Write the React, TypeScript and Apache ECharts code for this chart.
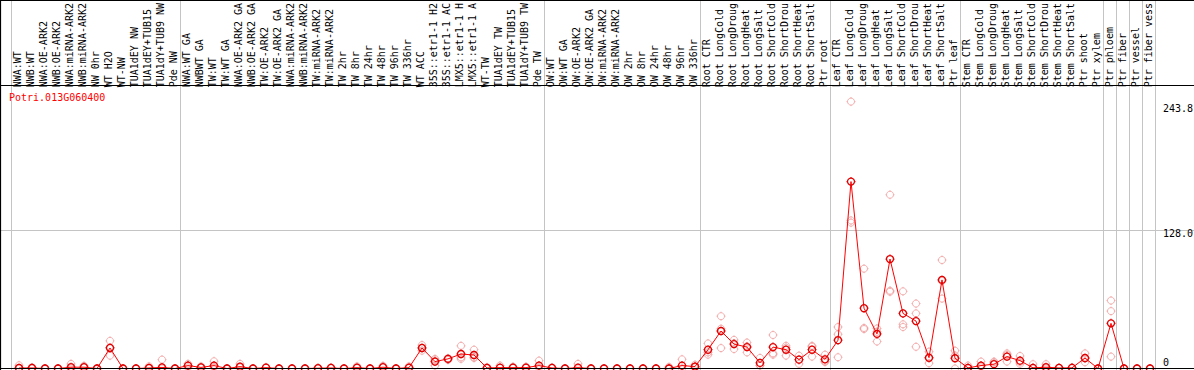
import React, { useEffect, useRef } from 'react';
import * as echarts from 'echarts';

const geneId = 'Potri.013G060400';

const categories = [
  'NWA:WT', 'NWB:WT', 'NWA:OE-ARK2', 'NWB:OE-ARK2', 'NWA:miRNA-ARK2', 'NWB:miRNA-ARK2', 'NW 0hr', 'WT H2O', 'WT-NW',
  'TUA1dEY NW', 'TUA1dEY+TUB15', 'TUA1dY+TUB9 NW', 'Pde NW',
  'NWA:WT GA', 'NWBWT GA', 'TW:WT', 'TW:WT GA', 'NWA:OE-ARK2 GA', 'NWB:OE-ARK2 GA', 'TW:OE-ARK2', 'TW:OE-ARK2 GA',
  'NWA:miRNA-ARK2', 'NWB:miRNA-ARK2', 'TW:miRNA-ARK2', 'TW:miRNA-ARK2', 'TW 2hr', 'TW 8hr', 'TW 24hr', 'TW 48hr',
  'TW 96hr', 'TW 336hr', 'WT ACC', '35S::etr1-1 H2', '35S::etr1-1 AC', 'LMX5::etr1-1 H', 'LMX5::etr1-1 A', 'WT-TW',
  'TUA1dEY TW', 'TUA1dEY+TUB15', 'TUA1dY+TUB9 TW', 'Pde TW',
  'OW:WT', 'OW:WT GA', 'OW:OE-ARK2', 'OW:OE-ARK2 GA', 'OW:miRNA-ARK2', 'OW:miRNA-ARK2', 'OW 2hr', 'OW 8hr', 'OW 24hr',
  'OW 48hr', 'OW 96hr', 'OW 336hr',
  'Root CTR', 'Root LongCold', 'Root LongDroug', 'Root LongHeat', 'Root LongSalt', 'Root ShortCold', 'Root ShortDrou',
  'Root ShortHeat', 'Root ShortSalt', 'Ptr root',
  'Leaf CTR', 'Leaf LongCold', 'Leaf LongDroug', 'Leaf LongHeat', 'Leaf LongSalt', 'Leaf ShortCold', 'Leaf ShortDrou',
  'Leaf ShortHeat', 'Leaf ShortSalt', 'Ptr leaf',
  'Stem CTR', 'Stem LongCold', 'Stem LongDroug', 'Stem LongHeat', 'Stem LongSalt', 'Stem ShortCold', 'Stem ShortDrou',
  'Stem ShortHeat', 'Stem ShortSalt', 'Ptr shoot', 'Ptr xylem',
  'Ptr phloem', 'Ptr fiber', 'Ptr vessel', 'Ptr fiber vess',
];

// first category index of each sample group
const groupStarts = [0, 13, 41, 53, 63, 73, 84, 85, 86, 87];

const means = [
  0.5, 0.5, 0, 0, 1.2, 1.2, 0, 19, 0, 0, 0.5, 1, 0,
  2.7, 1, 2.7, 0, 1.7, 0, 0.8, 0, 0, 0, 0.3, 0.5, 0, 0.8, 0, 1.2, 0, 0.8, 19, 6.4, 8.9, 13.4, 12.5, 0.5, 0.8, 0.8, 0.8, 2.7,
  0.5, 0, 0.8, 0, 0, 0, 0, 0, 0, 0, 2.7, 1.8,
  17.4, 34.7, 22.6, 19.8, 5.2, 19.8, 17.4, 8.2, 17.4, 8.5,
  26.2, 173, 55.8, 32, 101.3, 51, 43.9, 10, 82, 9.5,
  0.6, 2.7, 4, 11, 7.3, 0.6, 1.2, 0.5, 0.6, 9.7, 0,
  41.8, 0, 0, 0,
];

const replicates: number[][] = [
  [3, 0, 0], [1, 0.3, 0.2], [0, 0], [0, 0], [4.3, 0], [2.5, 1], [0, 0], [25.6, 19.5, 11.9], [0, 0], [0, 0], [2, 0], [8.2, 0], [0, 0],
  [4.3, 2.7, 1], [2, 1], [6.7, 1.4], [0, 0], [4.3, 1], [0, 0], [1.2, 0.8], [0, 0], [0, 0], [0, 0], [0.6, 0], [1, 0.5], [0, 0],
  [2, 0.4], [0, 0], [2.5, 1], [0, 0], [2, 0.4], [21.7, 18.8, 16.5], [8.9, 7.6, 2.7], [9.5, 9.2, 8], [21, 10.3, 8.9],
  [17.4, 10.4, 9.7], [1.2, 0.3], [2.7, 0.5], [1.7, 0.6], [1.7, 0.6], [7.3, 0.8],
  [1, 0.5], [0, 0], [4.3, 0], [0, 0], [0, 0], [0, 0], [0, 0], [0, 0], [0, 0], [1.5, 0], [8.5, 0], [3.5, 1],
  [23.2, 14.9, 12.8], [48.4, 36.8, 18.9], [26.5, 23.3, 18], [24, 20.5, 14.9], [9.8, 3.1, 2.7], [31, 14, 12.8],
  [21, 19.3, 11.9], [11.9, 8.4, 4.3], [21, 20.2, 11], [12.8, 6.7, 6],
  [38.4, 31.7, 10.4], [247, 137, 135], [92.4, 37.5, 36.5], [37, 34, 25], [160.8, 72, 71], [71.4, 40.9, 38.4],
  [60.1, 51, 20.1], [15.6, 9.5, 4.9], [100.4, 81, 64.7], [16.5, 12, 0],
  [2.7, 0], [6.4, 1.7], [6.4, 5.6], [14, 12.6, 6.4], [11.6, 6, 4.3], [4, 0], [4, 0], [0.8, 0.5], [1, 0.8], [14, 9.3, 5.8], [0, 0],
  [62.9, 53.1, 11], [0, 0], [0, 0], [0, 0],
];

const yTickValues = [0, 128.0, 243.8];

const W = 1194;
const H = 370;

export default function App() {
  const ref = useRef<HTMLDivElement>(null);

  useEffect(() => {
    document.body.style.margin = '0';
    const chart = echarts.init(ref.current!, null, { renderer: 'svg' });
    const n = categories.length;
    const font = 'DejaVu Sans Mono';
    // ring with four small tick marks
    const marker =
      'path://M4.5,0L4.5,1M4.5,8L4.5,9M0,4.5L1,4.5M8,4.5L9,4.5' +
      'M8,4.5C8,6.433 6.433,8 4.5,8C2.567,8 1,6.433 1,4.5C1,2.567 2.567,1 4.5,1C6.433,1 8,2.567 8,4.5Z';

    const repData: number[][] = [];
    replicates.forEach((reps, i) => reps.forEach((v) => repData.push([i, v])));

    chart.setOption({
      animation: false,
      grid: { left: 11, right: 39, top: 85.5, bottom: 1.5 },
      xAxis: [
        { type: 'value', min: -8 / 13, max: n - 8 / 13, show: false },
        {
          type: 'category',
          position: 'top',
          data: categories,
          boundaryGap: true,
          axisLine: { show: false },
          axisTick: { show: false },
          splitLine: { show: false },
          axisLabel: {
            interval: 0,
            rotate: -90,
            margin: 2,
            align: 'left',
            verticalAlign: 'middle',
            fontFamily: font,
            fontSize: 10,
            color: '#000',
          },
        },
      ],
      yAxis: { type: 'value', min: 0, max: 258.4, show: false },
      series: [
        {
          type: 'scatter',
          xAxisIndex: 0,
          data: repData,
          symbol: marker,
          symbolSize: 9,
          itemStyle: { color: 'rgba(0,0,0,0)', borderColor: '#f09a9a', borderWidth: 1 },
          z: 2,
        },
        {
          type: 'line',
          xAxisIndex: 0,
          data: means.map((v, i) => [i, v]),
          symbol: marker,
          symbolSize: 9,
          showAllSymbol: true,
          lineStyle: { color: '#ff0000', width: 1 },
          itemStyle: { color: 'rgba(0,0,0,0)', borderColor: '#e00000', borderWidth: 1.3 },
          z: 3,
        },
      ],
    });

    const c0 = chart.convertToPixel({ xAxisIndex: 1 }, 0) as number;
    const c1 = chart.convertToPixel({ xAxisIndex: 1 }, 1) as number;
    const band = c1 - c0;
    const edge = (k: number) => Math.round(c0 - band / 2 + k * band) + 0.5;
    const yPix = (v: number) => chart.convertToPixel({ yAxisIndex: 0 }, v) as number;

    const gray = '#c4c4c4';
    const elements: any[] = [];
    [...groupStarts, n].forEach((k) => {
      elements.push({
        type: 'line',
        shape: { x1: edge(k), y1: 0, x2: edge(k), y2: H },
        style: { stroke: gray, lineWidth: 1 },
        z: 0,
      });
    });
    const y128 = Math.round(yPix(128)) + 0.5;
    elements.push({
      type: 'line',
      shape: { x1: 0, y1: y128, x2: W, y2: y128 },
      style: { stroke: gray, lineWidth: 1 },
      z: 0,
    });
    const yTop = 85.5;
    const yBottom = 368.5;
    [0.5, yTop, yBottom].forEach((y) => {
      elements.push({
        type: 'line',
        shape: { x1: 0, y1: y, x2: W, y2: y },
        style: { stroke: '#000000', lineWidth: 1.2 },
        z: 10,
      });
    });
    elements.push({
      type: 'line',
      shape: { x1: 0.5, y1: 0, x2: 0.5, y2: H },
      style: { stroke: '#000000', lineWidth: 1.2 },
      z: 10,
    });
    yTickValues.forEach((v) => {
      elements.push({
        type: 'text',
        x: 1163,
        y: v === 0 ? yPix(v) - 1 : yPix(v) - 2,
        style: {
          text: v === 0 ? '0' : v.toFixed(1),
          font: `10px ${font}`,
          fill: '#000',
          align: 'left',
          verticalAlign: v === 0 ? 'bottom' : 'top',
        },
        z: 5,
      });
    });
    elements.push({
      type: 'text',
      x: 9,
      y: 97,
      style: { text: geneId, font: `10px ${font}`, fill: '#ff0000', align: 'left', verticalAlign: 'middle' },
      z: 5,
    });

    chart.setOption({ graphic: { elements } });

    return () => chart.dispose();
  }, []);

  return <div ref={ref} style={{ width: W, height: H }} />;
}
